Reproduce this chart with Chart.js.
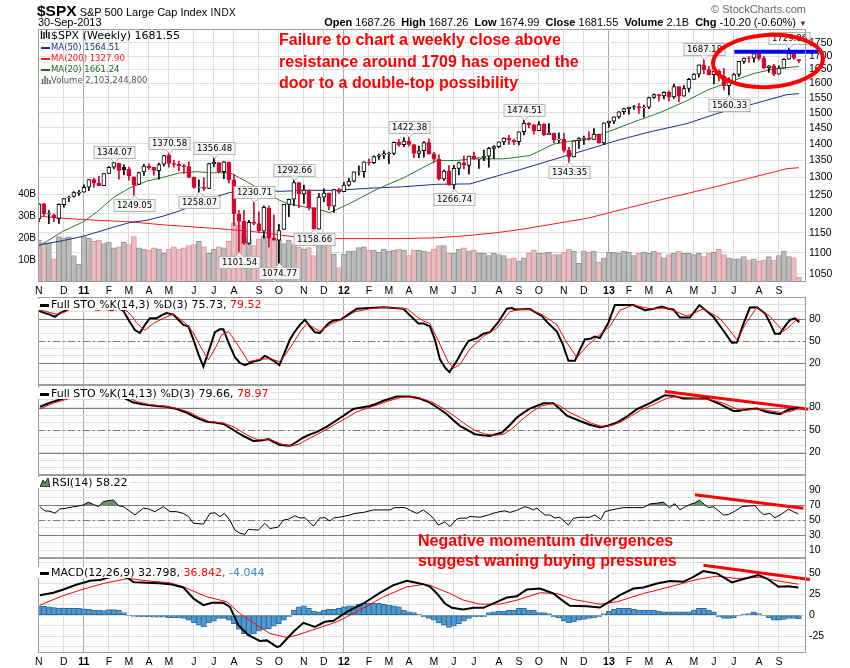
<!DOCTYPE html>
<html>
<head>
<meta charset="utf-8">
<script src="https://cdn.jsdelivr.net/npm/chart.js@4.4.1/dist/chart.umd.min.js"></script>
<style>
  body { margin: 0; background: #fff; }
  #wrap { position: relative; width: 850px; height: 668px; overflow: hidden; font-family: "Liberation Sans", Arial, sans-serif; }
  canvas { position: absolute; left: 0; }
  .abs { position: absolute; white-space: nowrap; }
  .lg { font: 11px/11px "DejaVu Sans", Verdana, sans-serif; background: #fff; padding: 0 3px 0 2px; }
  .dash { display: inline-block; width: 9px; height: 2px; vertical-align: middle; margin-right: 2px; }
  .note { color: #f00; font-weight: bold; font-size: 16px; }
</style>
</head>
<body>
<div id="wrap">
  <canvas id="mainChart" width="850" height="300" style="top:0"></canvas>
  <canvas id="sto1Chart" width="850" height="96" style="top:290px"></canvas>
  <canvas id="sto2Chart" width="850" height="100" style="top:380px"></canvas>
  <canvas id="rsiChart" width="850" height="93" style="top:470px"></canvas>
  <canvas id="macdChart" width="850" height="115" style="top:553px"></canvas>

  <div class="abs" style="left:37px;top:2px;font-size:11px;line-height:18px">
    <b style="font-size:15.5px">$SPX</b> S&amp;P 500 Large Cap Index <span style="font-size:10px;letter-spacing:0.5px">INDX</span>
  </div>
  <div class="abs" style="left:38px;top:16px;font-size:11px">30-Sep-2013</div>
  <div class="abs" style="right:43px;top:16px;font-size:11px">
    <b>Open</b> 1687.26 &nbsp;<b>High</b> 1687.26 &nbsp;<b>Low</b> 1674.99 &nbsp;<b>Close</b> 1681.55 &nbsp;<b>Volume</b> 2.1B &nbsp;<b>Chg</b> -10.20 (-0.60%) <span style="color:#8b1c2c;font-size:8px">&#9660;</span>
  </div>
  <div class="abs" style="right:44px;top:3px;font-size:11px;color:#666">&copy; StockCharts.com</div>

  <div class="abs" style="left:40px;top:30px;font:11px/12px 'DejaVu Sans',sans-serif">
    <svg width="11" height="10" style="vertical-align:-1px"><path d="M1.5 1v8M4 2v7M6.5 0v8M9 2v7" stroke="#000" stroke-width="1.3"/></svg>$SPX (Weekly) 1681.55
  </div>
  <div class="abs" style="left:41px;top:42px;font:8.5px/11px 'DejaVu Sans',sans-serif">
    <div style="color:#1c2a8c"><i class="dash" style="background:#1c2a8c;margin-right:1px"></i>MA(50) 1564.51</div>
    <div style="color:#ff1a1a"><i class="dash" style="background:#ff1a1a;margin-right:1px"></i>MA(200) 1327.90</div>
    <div style="color:#1e6b1e"><i class="dash" style="background:#1e6b1e;margin-right:1px"></i>MA(20) 1661.24</div>
    <div style="color:#555"><svg width="10" height="9" style="vertical-align:-1px"><path d="M1.5 9V4M4 9V1M6.5 9V3M9 9V5" stroke="#666" stroke-width="1.5"/></svg>Volume 2,103,244,800</div>
  </div>

  <div class="abs lg" style="left:38px;top:299px"><i class="dash" style="background:#000;height:3px"></i>Full STO %K(14,3) %D(3) 75.73, <span style="color:#f00">79.52</span></div>
  <div class="abs lg" style="left:38px;top:388px"><i class="dash" style="background:#000;height:3px"></i>Full STO %K(14,13) %D(3) 79.66, <span style="color:#f00">78.97</span></div>
  <div class="abs lg" style="left:38px;top:477px"><svg width="10" height="10" style="vertical-align:-1px;margin-right:2px"><path d="M0 10L3 3L5 6L8 1L10 10Z" fill="#5f8f5f" stroke="#000" stroke-width="0.8"/></svg>RSI(14) 58.22</div>
  <div class="abs lg" style="left:38px;top:567px"><i class="dash" style="background:#000;height:3px"></i>MACD(12,26,9) 32.798, <span style="color:#f00">36.842,</span> <span style="color:#2e8bc8">-4.044</span></div>

  <div class="abs note" style="left:279px;top:29px;line-height:21.5px">Failure to chart a weekly close above<br>resistance around 1709 has opened the<br>door to a double-top possibility</div>
  <div class="abs note" style="left:418px;top:531px;line-height:20px">Negative momentum divergences<br>suggest waning buying pressures</div>

  <svg class="abs" width="850" height="668" style="left:0;top:0;pointer-events:none">
    <ellipse cx="768" cy="61" rx="55" ry="26" transform="rotate(-3 768 61)" fill="none" stroke="#f00" stroke-width="4"/>
  </svg>
</div>

<script>
// weekly bars, index 0 = week ending 5-Nov-2010, last = 30-Sep-2013 (partial)
const prevClose = 1183.26;
const opens = [1185.7,1226.0,1198.1,1194.8,1186.6,1223.2,1241.8,1245.8,1254.7,
  1257.6,1271.5,1293.2,1283.3,1276.3,1311.0,1329.2,1340.4,1328.6,1322.7,1301.2,1279.3,
  1315.5,1332.0,1328.6,1319.0,1338.1,1365.2,1340.2,1337.4,1333.1,1331.1,1300.3,1271.0,1271.5,
  1268.4,1339.6,1343.3,1315.9,1344.3,1292.6,1198.5,1179.0,1123.2,1176.7,1173.6,1153.5,1214.0,1136.9,
  1131.2,1158.2,1224.5,1238.7,1284.9,1253.2,1263.9,1215.6,1158.7,1244.3,1255.1,1219.7,1265.0,
  1258.9,1277.8,1289.1,1315.3,1316.2,1344.3,1342.6,1361.2,1365.2,1369.6,1370.8,1404.2,1397.1,1408.5,1397.5,
  1370.3,1378.5,1403.4,1369.1,1353.4,1295.2,1317.8,1278.0,1325.7,1342.4,1334.9,1362.3,1354.7,1356.8,1362.3,
  1385.9,1391.0,1405.9,1418.1,1411.1,1406.5,1438.4,1465.4,1460.3,1440.9,1461.4,1428.8,1433.7,1412.0,1414.0,
  1380.1,1359.9,1409.2,1416.2,1418.1,1413.5,1430.2,
  1402.4,1466.5,1472.1,1485.9,1502.9,1513.2,1517.9,1519.8,1515.6,1518.2,1551.2,1560.7,1556.9,1569.2,1553.3,
  1588.6,1555.3,1582.3,1614.4,1633.7,1667.5,1649.6,1631.7,1643.4,1626.7,1592.4,1606.3,1632.0,1680.2,1692.1,
  1691.7,1709.7,1691.4,1655.8,1663.5,1633.0,1655.2,1688.0,1709.9,1687.26];
const highs = [1227.1,1227.0,1207.4,1198.9,1225.6,1240.4,1246.7,1259.4,1262.6,
  1278.2,1293.2,1296.7,1302.7,1311.0,1330.8,1344.07,1341.8,1336.5,1330.0,1301.2,1314.8,
  1337.9,1339.5,1328.6,1341.8,1364.6,1370.58,1349.4,1346.8,1338.0,1345.2,1300.6,1292.5,1298.6,
  1341.0,1356.48,1343.3,1347.0,1344.3,1307.4,1208.5,1208.5,1182.0,1230.71,1204.4,1220.1,1220.4,1195.9,
  1171.4,1224.6,1239.0,1292.66,1284.9,1277.6,1263.9,1215.6,1254.0,1267.1,1255.2,1265.4,1269.4,
  1284.6,1296.8,1315.5,1333.5,1345.3,1354.3,1363.4,1368.9,1378.0,1374.8,1405.9,1414.0,1419.2,1422.38,1397.5,
  1392.8,1406.6,1415.3,1373.9,1365.9,1320.7,1334.4,1334.5,1344.8,1363.5,1362.2,1374.8,1357.0,1380.4,1389.2,
  1394.2,1406.0,1418.7,1426.7,1413.5,1437.9,1474.51,1467.1,1461.5,1470.9,1464.0,1464.0,1433.7,1434.3,1433.4,
  1388.8,1409.2,1419.7,1423.7,1438.6,1448.0,1430.7,
  1466.5,1472.3,1485.98,1503.3,1514.4,1518.3,1524.7,1530.9,1525.3,1552.5,1563.6,1561.6,1570.3,1573.7,1597.4,
  1588.6,1592.6,1618.5,1635.0,1667.5,1687.18,1661.9,1646.5,1648.7,1654.2,1620.1,1635.5,1680.2,1693.1,1698.4,
  1709.67,1709.7,1700.0,1664.9,1669.5,1663.3,1691.0,1729.86,1709.9,1687.26];
const lows = [1177.6,1194.1,1173.0,1178.4,1173.6,1217.0,1232.6,1244.2,1249.0,
  1257.6,1262.2,1271.3,1275.1,1276.3,1311.0,1324.6,1294.3,1306.9,1291.9,1249.05,1279.3,
  1305.3,1322.9,1306.4,1294.7,1332.2,1329.2,1329.3,1318.5,1311.3,1297.9,1268.1,1258.07,1262.7,
  1267.5,1330.9,1313.5,1295.9,1282.9,1168.1,1101.54,1120.0,1121.1,1170.0,1150.0,1136.1,1114.2,1131.1,
  1074.77,1158.2,1191.5,1221.1,1215.4,1226.6,1209.4,1158.66,1158.7,1231.5,1209.5,1202.4,1254.1,
  1258.9,1274.4,1287.0,1306.1,1300.5,1335.2,1340.0,1352.3,1354.3,1340.0,1366.7,1391.6,1391.3,1392.9,1357.4,
  1357.4,1358.8,1367.9,1343.1,1291.98,1291.1,1277.8,1266.74,1306.6,1324.4,1309.3,1351.4,1325.4,1348.4,1329.2,
  1354.7,1389.0,1397.0,1398.0,1397.0,1396.6,1428.0,1450.0,1430.5,1440.9,1425.5,1428.8,1403.3,1403.0,1373.9,
  1343.35,1359.9,1385.4,1398.1,1411.9,1413.5,1401.6,
  1398.0,1451.6,1463.8,1481.2,1495.0,1495.0,1510.3,1497.3,1485.0,1513.0,1548.2,1538.6,1546.2,1539.5,1548.0,
  1536.0,1555.3,1570.6,1614.4,1622.7,1635.5,1630.7,1598.2,1608.1,1577.7,1560.33,1601.1,1624.7,1672.7,1676.0,
  1676.9,1684.9,1654.2,1639.4,1627.5,1633.0,1655.2,1687.8,1687.0,1674.99];
const closes = [1225.85,1199.21,1199.73,1189.40,1224.71,1240.40,1243.91,1256.77,1257.64,
  1271.50,1293.24,1283.35,1276.34,1310.87,1329.15,1343.01,1319.88,1321.15,1304.28,1279.20,1313.80,
  1332.41,1328.17,1319.68,1337.38,1363.61,1340.20,1337.77,1333.27,1331.10,1300.16,1270.98,1271.50,1268.45,
  1339.67,1343.80,1316.14,1345.02,1292.28,1199.38,1178.81,1123.53,1176.80,1173.97,1154.23,1216.01,1136.43,1131.42,
  1155.46,1224.58,1238.25,1285.09,1253.23,1263.85,1215.65,1158.67,1244.28,1255.19,1219.66,1265.33,1257.60,
  1277.81,1289.09,1315.38,1316.33,1344.90,1342.64,1361.23,1365.74,1369.63,1370.87,1404.17,1397.11,1408.47,1398.08,1370.26,
  1378.53,1403.36,1369.10,1353.39,1295.22,1317.82,1278.04,1325.66,1342.84,1335.02,1362.16,1354.68,1356.78,1362.66,1385.97,
  1390.99,1405.87,1418.16,1411.13,1406.58,1437.92,1465.77,1460.15,1440.67,1460.93,1428.59,1433.19,1411.94,1414.20,1379.85,
  1359.88,1409.15,1416.18,1418.07,1413.58,1430.15,1402.43,
  1466.47,1472.05,1485.98,1502.96,1513.17,1517.93,1519.79,1515.60,1518.20,1551.18,1560.70,1556.89,1569.19,1553.28,1588.85,
  1555.25,1582.24,1614.42,1633.70,1667.47,1649.60,1630.74,1643.38,1626.73,1592.43,1606.28,1631.89,1680.19,1692.09,1691.65,
  1709.67,1691.42,1655.83,1663.50,1632.97,1655.17,1687.99,1709.91,1691.75,1681.55];
// weekly volume, billions of shares
const volumes = [19,17.7,17.7,10.5,20.6,20,20.5,12,8,
  20.6,20,18.5,19,17.5,18,15.5,16,18,17,20.6,15.5,
  15,14.5,15.5,15,13,15,16,15,15.5,16.5,17,18.5,16,
  13,15,16,15.5,18.5,27,26,22,20,16.5,19.5,21,20,19,
  19,17.5,19,17,16,14.8,15.6,12,18,16.5,17.5,12.7,6.5,
  12.7,14,14,15.6,16,14.5,14.5,13.5,15,14,14.5,15,14.5,12,14.5,14.5,14,13.5,15,16.5,
  16.5,13,13,15,15.5,14,14.5,13,13,12,13,12.5,12,10.5,11,9.5,11,13,14.5,13,
  13,13.5,12.5,12.5,13.5,15,14,8.5,14,13.5,14,9,
  11,13.5,13.5,13,14,13.5,12,13,13.5,13,14,13,11,12.5,13,14,13,13,12.5,13,
  11.5,13,13.5,15,12.5,11,10.5,10.5,11.5,10,10.5,9.5,10,11.5,10,12,14,11.5,11,2.1];

// moving averages: [week index, value]
const ma20 = [[0,1116],[4.9,1154],[8.9,1178],[11.6,1204],[14.9,1243],[18.2,1270],[21.6,1289],[24.9,1300],
  [28.2,1313],[31.6,1316],[34.9,1313],[38.2,1313],[40.2,1298],[44.9,1261],[48.2,1235],[49.6,1227],[52.9,1218],
  [56.2,1210],[58.2,1202],[62.2,1227],[67.6,1266],[72.9,1298],[78.2,1339],[79.6,1349],[83.6,1349],[86.2,1354],
  [92.9,1354],[96.2,1360],[98.2,1364],[102.9,1399],[106.2,1408],[109.6,1413],[114.2,1440],[119.6,1473],
  [124.2,1500],[129.6,1540],[133.6,1576],[138.2,1606],[142.9,1635],[146.9,1652],[152,1661.24]];
const ma50 = [[0,1119],[4.9,1130],[8.9,1141],[11.6,1151],[14.9,1164],[18.2,1176],[21.6,1182],[24.9,1193],
  [28.2,1207],[31.6,1225],[34.9,1243],[38.2,1257],[41.6,1261],[44.9,1263],[48.2,1260],[52.9,1263],[59.6,1263],
  [66.2,1269],[72.9,1273],[79.6,1280],[86.2,1281],[92.9,1309],[96.2,1322],[102.9,1352],[109.6,1382],
  [116.2,1413],[122.9,1440],[129.6,1464],[136.2,1500],[142.9,1529],[149.6,1561],[152,1564.51]];
const ma200 = [[0,1193],[4.9,1187],[11.6,1182],[18.2,1178],[24.9,1170],[31.6,1164],[38.2,1158],[44.9,1150],
  [48.2,1144],[52.9,1137],[59.6,1135],[66.2,1135],[72.9,1135],[79.6,1137],[86.2,1143],[91.6,1150],[96.2,1158],
  [98.2,1162],[109.6,1187],[122.9,1232],[136.2,1276],[149.6,1325],[152,1327.9]];

const stoFastK = [[0,91],[1.2,88],[2.2,86],[3.2,83],[4.2,88],[5.5,92],[7,97],[9,98],[11,94],[12,93],[13,95],
  [14.6,92],[15.5,96],[16.9,91],[18,78],[19.2,65],[20.2,61],[21.2,72],[22.2,81],[23.5,81],[24.5,85],[25.5,88],
  [26.9,86],[27.9,79],[28.9,72],[29.9,70],[30.9,52],[31.9,32],[32.9,15],[33.9,35],[35.2,62],[36.2,66],[36.9,66],
  [37.9,48],[39.2,28],[40.2,20],[41.2,17],[42.9,22],[44.2,24],[45.2,30],[46.2,26],[47.2,22],[48.1,17],[49.2,35],
  [50.2,52],[51.2,63],[52.2,72],[53.2,79],[54.2,70],[55.2,62],[56.2,61],[57.9,74],[58.9,78],[60.5,79.5],[61.2,83],
  [62.2,87.6],[63.6,94],[66.2,95],[68.9,96],[71,95],[72.9,94],[74.2,85],[75.9,74],[76.9,74],[78.2,70],[79.2,52],
  [80.2,25],[81.2,14],[82.1,7.5],[83.6,23],[84.9,39],[85.9,50],[87.6,54],[88.9,60],[90.2,62],[91.9,76],[93.6,94],
  [94.6,95],[95.2,93],[98.2,93.5],[99.6,88],[100.6,84],[101.6,76],[103.6,63],[104.8,45],[105.9,23],[107.2,23],
  [108.2,38],[109.2,52],[110.2,53],[111.2,56],[112.2,54],[113.9,75],[115.2,99],[118.9,99],[121.2,92],[123,94],
  [124.6,97],[125.9,94],[126.9,93],[128.2,82],[130.2,82],[132.1,99],[134.9,83],[136.8,65],[138.6,47.6],[139.6,48],
  [141,75],[142.2,95.6],[143.6,96],[145.2,88],[146.2,75],[147.2,60],[148.2,60],[149.2,70],[150.2,78.7],[151.2,81],
  [152.1,75.73]];
const stoFastD = [[0,93],[1.5,90],[3.5,86.7],[5,89],[6.2,93],[8,97],[11.5,92],[13,93],[14.6,92],[16,93],[17.6,91],
  [18.6,84],[19.6,74],[21.2,64.5],[22.9,74],[24.9,81],[26.9,86.7],[28.2,80],[29.5,73],[30.9,61],[32.5,40],
  [33.9,24.4],[35.5,43],[36.5,58],[37.9,63],[39.5,47.6],[41.9,21.7],[44.2,25],[46.2,26],[48.2,21.7],[49.5,33],
  [50.9,47.6],[52.2,62],[53.6,74],[55,68],[56.2,63],[58.6,74],[60.5,79],[63.2,90],[66.2,94],[68.9,96],[73.6,94],
  [75.6,83],[77,77],[78.2,74],[79.9,50],[81.9,21],[82.9,13],[84.2,18],[86.2,39],[88.9,56.4],[91.6,67.6],[94.2,90],
  [96,93],[98.2,93],[100.9,85],[103.6,72],[105.6,47.6],[107.6,27.6],[109.6,43],[112.2,59],[114.2,70],[116.2,92],
  [118.9,99],[122.2,94],[125.5,95],[127.5,90],[129.6,84],[131,88],[132.9,94],[136.2,81],[139.6,52],[141.5,75],
  [143.6,96],[146.2,83.5],[148.9,63],[150.5,72],[151.6,79.5],[152.1,79.52]];
const stoSlowK = [[0.2,81],[2.5,87],[4.9,92],[7,96],[10,98],[14,98],[16,96],[17.6,91],[18.9,86.6],[21,84],
  [23.6,82],[25.5,81],[27.6,78],[29.6,73],[31.6,66],[33.6,61],[35.2,60],[36.9,58],[38.2,53],[39.6,47],[41.2,41],
  [42.9,35.5],[44.5,36],[45.9,38],[47,34],[48.2,30],[50.2,29],[51.5,34],[52.9,40],[54.2,44],[55.6,47.5],[57.6,54.6],
  [59.3,62],[60.9,69],[62.9,78],[64.5,80],[66.2,82],[67.5,85],[68.9,89],[71.6,94.7],[74.2,94.7],[76.2,92],
  [78.2,86.6],[79.9,79],[81.6,71],[82.9,63],[84.2,55.5],[85.7,50],[87.2,44.4],[88.7,43],[90.2,42],[92.6,46.6],
  [94.1,56],[95.6,66.6],[96.9,73],[98.2,78.6],[100.9,85.7],[102.9,85.7],[104.2,78],[105.6,69],[108.2,62],
  [110.2,57],[112.2,53.3],[113.9,56],[115.6,60],[117.6,68],[119.6,77.7],[122.2,85.7],[123.7,91],[125.2,96.4],
  [126.9,95.5],[128.9,92],[133.6,92],[136.2,84.4],[138.9,75.5],[139.9,75.5],[141.7,77.5],[143.6,78.6],[145.6,74],
  [148.2,71],[149.9,76.9],[152.1,79.66]];
const stoSlowD = [[0.2,78],[2.5,85],[5,90],[8,95],[12,98],[16,97],[18,93],[19.5,88],[22,84],[25,82],[28,78],
  [30,74],[32,67],[34,61.5],[37,59],[39,54],[40.5,48],[42,42],[43.8,37],[46.4,37],[48.6,31],[50.5,29],[52,31],
  [53.6,37],[55.6,44],[57.6,51],[59.6,59],[61.5,66],[63.5,74],[66,80],[68,84],[70,89],[72.5,93.5],[75,94.5],
  [77,91],[79,86],[81,78],[83,69],[85,59],[87,50],[89,45],[91,43],[92.8,44],[94.5,51],[96.5,63],[98.5,74],
  [100.5,82],[102.5,85],[104,83],[106,74],[108.5,66],[110.5,59],[112.5,55],[114.5,56],[116.5,61],[118.5,69],
  [120.5,77],[123,84],[125.5,92],[127.5,94.5],[129.5,93],[134,91],[136.8,86],[139.5,78],[141,76],[143.6,78],
  [146,76],[148.6,73],[150.5,75],[152.1,78.97]];

const rsi = [[0.2,68],[1.2,62.4],[2.2,62],[3.2,59.3],[4.2,65],[5.5,66],[6.9,68],[8,69],[8.9,70.4],[9.9,74],
  [10.9,71],[11.9,68],[12.9,74.8],[13.9,76],[14.9,77],[15.9,69.5],[16.9,68],[18,63],[19.2,57],[20.9,66],[21.9,65],
  [23.2,61.5],[24.9,68],[26.2,61.5],[27.5,61.5],[28.9,59],[29.9,55],[30.9,46],[32.9,45],[34.2,59],[35.2,60],
  [36.2,55],[37.1,59],[38.2,50],[39.2,37],[40.2,33],[41.2,31.3],[41.9,38],[42.9,37.5],[43.9,37],[45.2,46],
  [46.2,39],[47.9,41],[48.9,50.4],[49.9,51.4],[51.2,56],[52.2,53],[53.2,53.5],[54,48],[54.9,42.4],[56.2,53],
  [57.2,53.5],[58.2,49],[58.9,53],[60,54],[61.2,55.5],[62.2,57],[63.2,59],[64.9,60.4],[66.9,63.7],[68.5,63.7],
  [70.2,63.7],[71.2,66.8],[73.2,66.8],[74.3,63],[75.6,59],[76.9,63.7],[78.2,57],[78.9,52.6],[79.9,43.7],[81.2,48],
  [82.2,41.5],[83.6,51.7],[84.6,53],[85.6,52.6],[86.2,55],[88.2,54],[89.9,57],[91,59.5],[92.2,61.5],[93.2,62.5],
  [94.2,60.4],[95.5,63],[97.2,68],[98.2,66],[98.9,63.7],[99.6,66],[101.2,57],[102.2,57],[103.2,53],[104.2,54],
  [105.2,48],[105.9,43.7],[106.9,52.6],[108.2,54],[109.2,54],[110.2,54],[111.2,57],[112.4,51],[113.2,61.5],
  [114.6,63.7],[115.8,65.5],[116.9,66.8],[118.9,66.8],[120.9,66.8],[122.2,71.7],[123.5,72.5],[124.9,74],
  [126.1,66.8],[127.2,72],[128.2,64],[129.2,67.5],[130.2,71],[131.2,73],[132.1,76.6],[133.1,71],[133.9,66.8],
  [134.9,68],[136,62],[136.9,57],[137.9,57.6],[139.2,62],[140.6,68],[142,69],[143.2,69.5],[144,63],[144.9,57.6],
  [146.2,59],[147.2,53.5],[148.5,58],[149.9,64.7],[151,61],[151.9,58.22]];

const macd = [[0.2,23.8],[2.9,26.6],[4.9,30.6],[7.6,36.5],[8.9,38.5],[10.2,40.9],[12.2,41.7],[13.9,44.8],
  [15.5,47],[16.8,46],[17.9,43.6],[18.9,39.3],[21.6,38.5],[24,38],[26.2,36.9],[28.9,32.9],[30.9,19.8],[32.9,11.9],
  [34.6,14.7],[36.9,14.7],[38.2,9.9],[39.9,-11.9],[41.9,-23.8],[44.2,-30.6],[45.6,-30],[47.6,-37.7],[48.2,-37],
  [50.9,-19.8],[52.9,-9.1],[55.2,-13.9],[57.2,-7.9],[58.9,-6.7],[61.6,4],[64.9,13.9],[68.2,26.6],[70.9,35.7],
  [73.6,40.9],[76.9,36.9],[78.2,34],[79.6,25.8],[81.2,13.9],[82.6,8.7],[84.9,6.7],[86.9,8.7],[88.9,8.7],
  [91.6,15.9],[93.6,21],[95.6,22.6],[97.6,30.6],[100.2,31.7],[102.9,25.8],[104.6,17.9],[106.2,11.1],[109.6,10.7],
  [112.2,9.1],[114.6,17.9],[116.2,23.8],[118.9,31.7],[120.9,32.9],[123.6,37.7],[126.2,40.5],[128.9,39.7],
  [130.9,45.6],[132.9,52.4],[135.6,49.6],[138.6,38.9],[140.6,42.5],[143.9,47.6],[145.6,43.6],[147.9,33.7],
  [149.9,34.5],[151.9,32.8]];
const macdSignal = [[0.2,11.9],[4.2,21.8],[8.2,29.8],[12.9,37.7],[17.9,43.7],[21.6,40.9],[26.2,38.5],[28.9,33.7],
  [33.6,21.8],[37.6,15.9],[40.2,2],[43.6,-11.9],[46.2,-21.8],[49.6,-26.6],[51.6,-23.8],[55.6,-15.9],[59.6,-7.9],
  [64.2,6],[68.9,21.8],[73.6,33.7],[76.9,36.5],[78.2,35.7],[80.2,30.6],[82.2,25.8],[84.9,17.9],[88.2,13.1],
  [92.2,13.1],[95.6,17.9],[100.2,26.6],[103.6,25.8],[106.9,18.7],[112.2,13.1],[115.6,15.9],[120.9,25.8],
  [126.2,33.7],[131.6,42.5],[135.6,46.4],[139.6,43.6],[144.2,45.2],[147.6,40.9],[151.9,36.84]];
const macdHist = [11,10.5,10,9,8.5,8.5,8,8,8,7.5,7,6,6,5.5,6.5,6.5,6,3,
  -1,-1.5,-2,-2,-2,-2.5,-2.5,-2.5,-3,-3,-3,-4,
  -6,-9,-12,-14,-9,-7,-4,-4,-6,
  -10,-17,-22,-24,-22,-19,-17,-16,-13,-10,-6,-2,
  6,10,11,8,5,4,6,7,7,8,
  10,11,11,13,14,14,14,14,13,12,11,10,6,
  4,3,1,-2,
  -4,-6,-9,-12,-14.5,-13,-10,-7,-4,-2,-2,-2,
  3,4,5,5,6,6,8,8,6,6,
  3,3,2,-2,-3,-7,-9,-8,-6,-5,-4,-3,-2,
  2,5,7,8,8,8,7,6,6,6,6,5,
  4,4,4,4,4,4,6,8,8,6,4,
  -2,-4,-4,-3,-1,1,2,4,2,-1,-3,-6,-6,-5,-4,-4,-4.04];

const priceTicks = [1050,1100,1150,1200,1250,1300,1350,1400,1450,1500,1550,1600,1650,1700,1750];
const volTicks = [10,20,30,40];
const monthTicks = [0,5,9,14,18,22,26,31,35,39,44,48,53,57,61,66,70,74,79,83,87,92,96,100,
  105,109,114,118,122,126,131,135,139,144,148];
const monthLabels = ['N','D','11','F','M','A','M','J','J','A','S','O','N','D','12','F','M','A','M','J','J','A','S','O',
  'N','D','13','F','M','A','M','J','J','A','S'];
const yearTicks = [9, 61, 114];

// labelled highs / lows: bar index and which end
const calloutBars = [15,19,26,32,35,40,43,48,51,55,74,83,97,106,133,138,150];
const calloutHigh = [1,0,1,0,1,0,1,0,1,0,1,0,1,0,1,0,1];

// drawn annotation lines [week index, value]
const resistance = [[139.1,1716],[155.9,1716]];
const stoTrend = [[125.2,101.3],[153.9,77.7]];
const rsiTrend = [[131.2,83.7],[152.9,66]];
const macdTrend = [[132.9,59.5],[154.2,42.5]];

Chart.defaults.font.family = '"Liberation Sans", Arial, sans-serif';
Chart.defaults.color = '#000';

const X_MIN = -0.18, X_MAX = 153.42;
const pts = a => a.map(([x, y]) => ({ x, y }));
const isYear = v => yearTicks.includes(v);

const isDown = closes.map((c, i) => c < (i ? closes[i - 1] : prevClose));
const candleColor = isDown.map(d => d ? '#d4062e' : '#000000');
const bodyFill = closes.map((c, i) => c < opens[i] ? candleColor[i] : '#ffffff');

function xAxis(showLabels, h) {
  return {
    type: 'linear', min: X_MIN, max: X_MAX, offset: false,
    afterBuildTicks: s => { s.ticks = monthTicks.map(v => ({ value: v })); },
    afterFit: s => { s.height = h; s.paddingLeft = 0; s.paddingRight = 0; },
    grid: { offset: false, drawTicks: false, color: c => (c.tick && isYear(c.tick.value)) ? '#a9a9a9' : '#dcdcdc' },
    border: { display: false },
    ticks: {
      display: showLabels, autoSkip: false, maxRotation: 0, padding: 3,
      font: c => ({ size: 10.5, weight: (c.tick && isYear(c.tick.value)) ? 'bold' : 'normal' }),
      callback: (v, i) => monthLabels[i]
    }
  };
}

function rightAxis(min, max, gridVals, labelVals, type) {
  return {
    type: type || 'linear', position: 'right', min, max,
    afterBuildTicks: s => { s.ticks = gridVals.map(v => ({ value: v })); },
    afterFit: s => { s.width = 44; s.paddingTop = 0; s.paddingBottom = 0; },
    grid: { color: '#dfdfdf', drawTicks: false },
    border: { display: false },
    ticks: { padding: 3, autoSkip: false, font: { size: 10.5 }, callback: v => labelVals.includes(v) ? String(v) : '' }
  };
}

const frame = {
  id: 'frame',
  afterDraw(chart) {
    const a = chart.chartArea, c = chart.ctx;
    c.save();
    c.strokeStyle = '#9c9c9c';
    c.lineWidth = 1;
    c.strokeRect(Math.round(a.left) + 0.5, Math.round(a.top) + 0.5, Math.round(a.right - a.left) - 1, Math.round(a.bottom - a.top) - 1);
    c.restore();
  }
};

function refLines(levels) {
  return {
    id: 'refLines',
    beforeDatasetsDraw(chart) {
      const y = chart.scales.y, a = chart.chartArea, c = chart.ctx;
      c.save();
      c.strokeStyle = '#7c7c7c';
      c.lineWidth = 1;
      levels.forEach(([v, dashed]) => {
        const p = Math.round(y.getPixelForValue(v)) + 0.5;
        c.setLineDash(dashed ? [7, 3, 2, 3] : []);
        c.beginPath(); c.moveTo(a.left, p); c.lineTo(a.right, p); c.stroke();
      });
      c.restore();
    }
  };
}

const callouts = {
  id: 'callouts',
  afterDatasetsDraw(chart) {
    const xs = chart.scales.x, ys = chart.scales.y, c = chart.ctx;
    c.save();
    c.font = '8.5px "DejaVu Sans", sans-serif';
    c.textAlign = 'center';
    c.textBaseline = 'middle';
    calloutBars.forEach((i, k) => {
      const up = calloutHigh[k] === 1;
      const v = up ? highs[i] : lows[i];
      const px = Math.round(xs.getPixelForValue(i)) + 0.5, py = ys.getPixelForValue(v);
      const txt = v.toFixed(2), w = Math.round(c.measureText(txt).width) + 6, h = 12;
      const by = Math.round(up ? py - 4 - h : py + 4) + 0.5;
      c.fillStyle = '#f6f6f6';
      c.strokeStyle = '#b4b4b4';
      c.fillRect(px - w / 2, by, w, h);
      c.strokeRect(px - w / 2, by, w, h);
      c.beginPath();
      if (up) { c.moveTo(px - 4, by + h); c.lineTo(px, by + h + 4); c.lineTo(px + 4, by + h); }
      else { c.moveTo(px - 4, by); c.lineTo(px, by - 4); c.lineTo(px + 4, by); }
      c.fillStyle = '#ffffff';
      c.fill(); c.stroke();
      c.fillStyle = '#000';
      c.fillText(txt, px, by + h / 2 + 0.5);
    });
    c.restore();
  }
};

const lineDs = (data, color, width, extra) => Object.assign({
  type: 'line', data: pts(data), borderColor: color, borderWidth: width, pointRadius: 0, tension: 0, fill: false
}, extra || {});

const base = (padTop, padBottom, padLeft) => ({
  responsive: false, animation: false, events: [],
  layout: { padding: { top: padTop, bottom: padBottom, left: padLeft, right: 0 } },
  plugins: { legend: { display: false }, tooltip: { enabled: false } }
});

// price panel
new Chart(document.getElementById('mainChart'), {
  type: 'bar',
  data: {
    datasets: [
      lineDs(resistance, '#0000ff', 4, { yAxisID: 'y', clip: false, order: 0 }),
      { type: 'bar', data: closes.map((c, i) => ({ x: i, y: [opens[i], c] })), yAxisID: 'y',
        backgroundColor: bodyFill, borderColor: candleColor, borderWidth: 1, borderSkipped: false,
        barThickness: 4, grouped: false, order: 1 },
      { type: 'bar', data: closes.map((c, i) => ({ x: i, y: [lows[i], highs[i]] })), yAxisID: 'y',
        backgroundColor: candleColor, borderWidth: 0, barThickness: 1, grouped: false, order: 2 },
      lineDs(ma20, '#2a7a2a', 1, { yAxisID: 'y', order: 3 }),
      lineDs(ma50, '#1c2a8c', 1, { yAxisID: 'y', order: 3 }),
      lineDs(ma200, '#ff1a1a', 1, { yAxisID: 'y', order: 3 }),
      { type: 'bar', data: volumes.map((v, i) => ({ x: i, y: v })), yAxisID: 'vol',
        backgroundColor: isDown.map(d => d ? '#ebbcc0' : '#bcbcbc'),
        borderColor: isDown.map(d => d ? '#d3959b' : '#949494'),
        borderWidth: 1, borderSkipped: false, barThickness: 5, grouped: false, order: 10 }
    ]
  },
  options: Object.assign(base(29, 0, 0), {
    scales: {
      x: xAxis(true, 18),
      y: rightAxis(1031, 1805, priceTicks, priceTicks, 'logarithmic'),
      vol: {
        type: 'linear', position: 'left', min: 0, max: 115,
        afterBuildTicks: s => { s.ticks = volTicks.map(v => ({ value: v })); },
        afterFit: s => { s.width = 38; s.paddingTop = 0; s.paddingBottom = 0; },
        grid: { display: false, drawTicks: false }, border: { display: false },
        ticks: { padding: 2, font: { size: 10 }, callback: v => v + 'B' }
      }
    }
  }),
  plugins: [frame, callouts]
});

const stoGrid = [-10, 0, 10, 20, 30, 40, 50, 60, 70, 80, 90, 100, 110];

new Chart(document.getElementById('sto1Chart'), {
  type: 'line',
  data: { datasets: [lineDs(stoFastD, '#ff0000', 1), lineDs(stoFastK, '#000000', 2)] },
  options: Object.assign(base(7, 1, 38), {
    scales: { x: xAxis(false, 0), y: rightAxis(-10, 110, stoGrid, [20, 50, 80]) }
  }),
  plugins: [frame, refLines([[80], [50, true], [20]])]
});

new Chart(document.getElementById('sto2Chart'), {
  type: 'line',
  data: { datasets: [
    lineDs(stoSlowD, '#ff0000', 1), lineDs(stoSlowK, '#000000', 2),
    lineDs(stoTrend, '#ff0000', 3, { clip: false })
  ] },
  options: Object.assign(base(5, 5, 38), {
    scales: { x: xAxis(false, 0), y: rightAxis(-10, 110, stoGrid, [20, 50, 80]) }
  }),
  plugins: [frame, refLines([[80], [50, true], [20]])]
});

new Chart(document.getElementById('rsiChart'), {
  type: 'line',
  data: { datasets: [
    lineDs(rsi, '#000000', 1, { fill: { target: { value: 70 }, above: '#6a966a', below: 'rgba(0,0,0,0)' } }),
    lineDs(rsiTrend, '#ff0000', 3, { clip: false })
  ] },
  options: Object.assign(base(5, 5, 38), {
    scales: { x: xAxis(false, 0), y: rightAxis(0, 110, [0, 10, 20, 30, 40, 50, 60, 70, 80, 90, 100, 110], [10, 30, 50, 70, 90]) }
  }),
  plugins: [frame, refLines([[70], [50, true], [30]])]
});

new Chart(document.getElementById('macdChart'), {
  type: 'bar',
  data: { datasets: [
    lineDs(macdTrend, '#ff0000', 3, { clip: false, order: 0 }),
    lineDs(macd, '#000000', 2, { order: 1 }),
    lineDs(macdSignal, '#ff0000', 1, { order: 2 }),
    { type: 'bar', data: macdHist.map((v, i) => ({ x: i, y: v })), backgroundColor: '#4f9ad0',
      borderColor: '#2b6a99', borderWidth: 1, borderSkipped: false, barThickness: 5, grouped: false, order: 5 }
  ] },
  options: Object.assign(base(5, 0, 38), {
    scales: {
      x: xAxis(true, 15),
      y: rightAxis(-45, 68, [-37.5, -25, -12.5, 0, 12.5, 25, 37.5, 50, 62.5], [-25, 0, 25, 50])
    }
  }),
  plugins: [frame]
});
</script>
</body>
</html>
